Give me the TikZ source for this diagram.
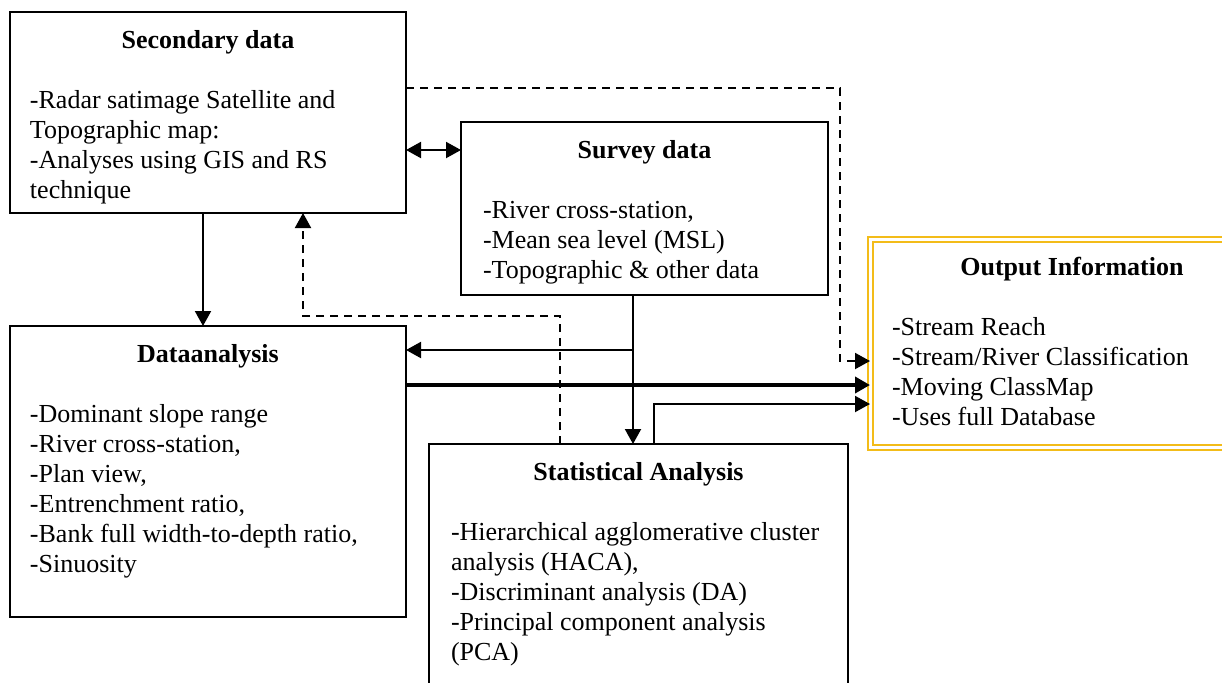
\documentclass[tikz,border=0pt]{standalone}
\usepackage{fontspec}
\setmainfont{Liberation Serif}
\usetikzlibrary{arrows.meta}

\definecolor{outgold}{RGB}{243,188,25}

% boxed panel: width, height, heading, lines
\newcommand{\panel}[4]{%
  \parbox[t][#2][t]{#1}{\raggedright\vspace*{7.5pt}%
    \centerline{\strut\bfseries #3}\vspace{15pt}#4}}

\begin{document}
\begin{tikzpicture}[x=0.5pt, y=-0.5pt,
      font=\fontsize{13}{15}\selectfont,
      >={Triangle[length=7.5pt,width=8pt]},
      box/.style={draw, line width=1pt, anchor=north west,
        inner xsep=10pt, inner ysep=0pt, outer sep=0pt},
      link/.style={->, line width=1pt},
      dlink/.style={->, line width=1pt, dash pattern=on 4pt off 3pt}]

    \useasboundingbox (0,0) rectangle (1222,682);

    \node[box] (sec) at (10,12) {\panel{178pt}{100.5pt}{Secondary data}%
      {-Radar satimage Satellite and\\Topographic map:\\-Analyses using GIS and RS\\technique}};
    \node[box, inner xsep=11pt] (surv) at (461,122) {\panel{161.5pt}{86.5pt}{Survey data}%
      {-River cross-station,\\-Mean sea level (MSL)\\-Topographic \& other data}};
    \node[box] (dat) at (10,326) {\panel{178pt}{145.5pt}{Dataanalysis}%
      {-Dominant slope range\\-River cross-station,\\-Plan view,\\-Entrenchment ratio,\\-Bank full width-to-depth ratio,\\-Sinuosity}};
    \node[box, inner xsep=11pt] (stat) at (429,444) {\panel{187.5pt}{130pt}{Statistical Analysis}%
      {\mbox{-Hierarchical agglomerative cluster}\\analysis (HACA),\\-Discriminant analysis (DA)\\-Principal component analysis\\(PCA)}};
    \node[box, draw=outgold, double, double distance=1.5pt, line width=1pt,
      inner xsep=11pt] (out) at (870,239) {\panel{180pt}{104pt}{Output Information}%
      {-Stream Reach\\-Stream/River Classification\\-Moving ClassMap\\-Uses full Database}};

    \draw[<->, line width=1pt] (sec.east |- 0,150) -- (surv.west |- 0,150);
    \draw[link] (sec.south -| 203,0) -- (dat.north -| 203,0);
    \draw[dlink] (stat.north -| 560,0) |- (303,316) -- (sec.south -| 303,0);
    \draw[dlink] (sec.east |- 0,88) -| (840,361) -- (out.west |- 0,361);
    \draw[link] (surv.south -| 633,0) -- (stat.north -| 633,0);
    \draw[link] (633,350) -- (dat.east |- 0,350);
    \draw[->, line width=2pt] (dat.east |- 0,385) -- (out.west |- 0,385);
    \draw[link] (stat.north -| 654,0) |- (out.west |- 0,404);
  \end{tikzpicture}
\end{document}
